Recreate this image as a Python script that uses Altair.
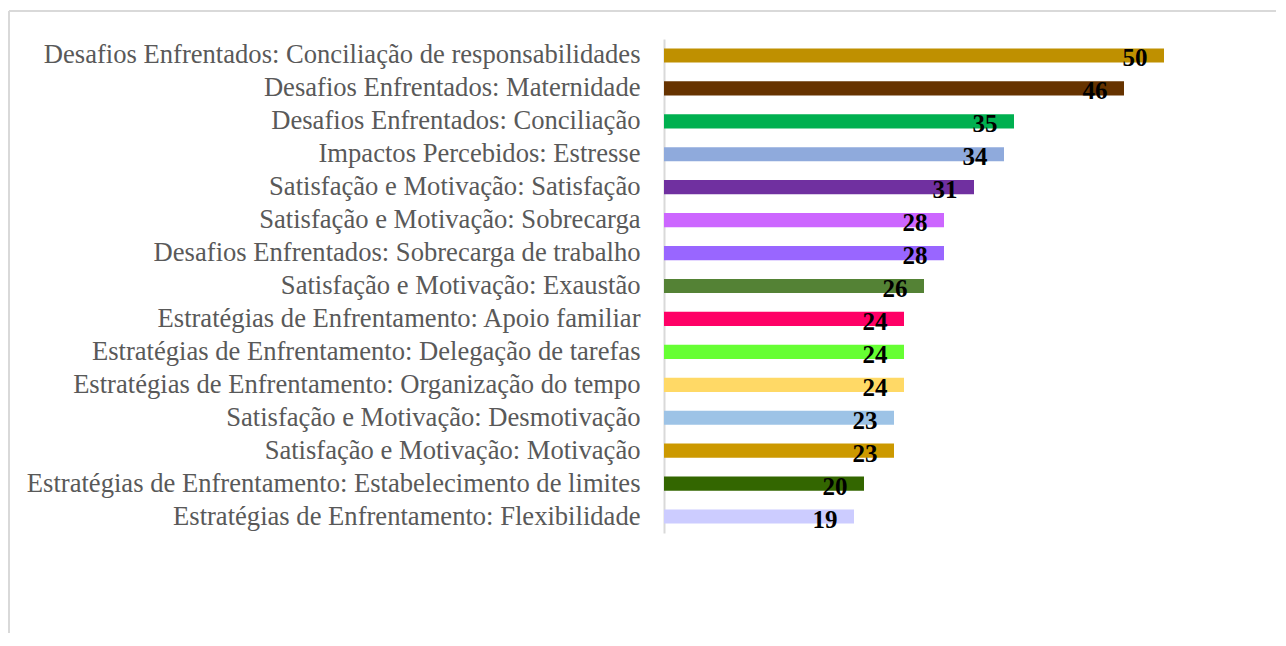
import altair as alt
import pandas as pd

categories = [
    "Desafios Enfrentados: Conciliação de responsabilidades",
    "Desafios Enfrentados: Maternidade",
    "Desafios Enfrentados: Conciliação",
    "Impactos Percebidos: Estresse",
    "Satisfação e Motivação: Satisfação",
    "Satisfação e Motivação: Sobrecarga",
    "Desafios Enfrentados: Sobrecarga de trabalho",
    "Satisfação e Motivação: Exaustão",
    "Estratégias de Enfrentamento: Apoio familiar",
    "Estratégias de Enfrentamento: Delegação de tarefas",
    "Estratégias de Enfrentamento: Organização do tempo",
    "Satisfação e Motivação: Desmotivação",
    "Satisfação e Motivação: Motivação",
    "Estratégias de Enfrentamento: Estabelecimento de limites",
    "Estratégias de Enfrentamento: Flexibilidade",
]
values = [50, 46, 35, 34, 31, 28, 28, 26, 24, 24, 24, 23, 23, 20, 19]
colors = [
    "#BF9000", "#663300", "#00B050", "#8FAADC", "#7030A0",
    "#CC66FF", "#9966FF", "#548235", "#FF0066", "#66FF33",
    "#FFD966", "#9DC3E6", "#CC9900", "#336600", "#CCCCFF",
]

df = pd.DataFrame({"cat": categories, "val": values, "color": colors})

FONT = "Liberation Serif"

y = alt.Y("cat:N", sort=categories, title=None,
          scale=alt.Scale(paddingInner=0.57, paddingOuter=0.285),
          axis=alt.Axis(ticks=False, labelFont=FONT, labelFontSize=26.6,
                        labelColor="#595959", labelPadding=24, labelLimit=700,
                        domainColor="#D9D9D9", domainWidth=2))
x = alt.X("val:Q", scale=alt.Scale(domain=[0, 60]), axis=None)

bars = alt.Chart(df).mark_bar().encode(
    x=x, y=y, color=alt.Color("color:N", scale=None)
)

labels = alt.Chart(df).mark_text(
    font=FONT, fontSize=25, fontWeight="bold", color="black",
    align="center", baseline="middle", dx=-29, dy=3
).encode(x=x, y=alt.Y("cat:N", sort=categories), text="val:Q")

frame = alt.Chart(df).mark_rule(color="#D9D9D9", strokeWidth=2).encode(
    x=alt.value(-655), x2=alt.value(700), y=alt.value(-28)
)
frame_left = alt.Chart(df).mark_rule(color="#D9D9D9", strokeWidth=2).encode(
    x=alt.value(-655), y=alt.value(-28), y2=alt.value(700)
)

chart = alt.layer(bars, labels, frame, frame_left).properties(
    width=600, height=494,
    autosize=alt.AutoSizeParams(type="none"),
    padding={"left": 656, "top": 31, "right": 12, "bottom": 100},
).configure_view(stroke=None)

chart.save("out.html", embed_options={"renderer": "svg", "actions": False})
